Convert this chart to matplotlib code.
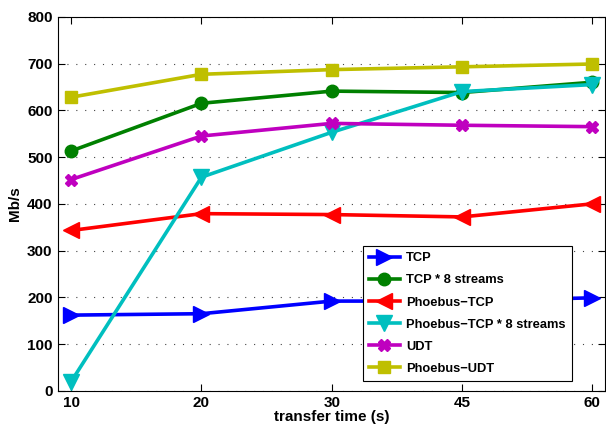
import matplotlib
matplotlib.use("Agg")
import matplotlib.pyplot as plt

plt.rcParams['font.family'] = ['Liberation Sans', 'DejaVu Sans']
plt.rcParams['font.weight'] = 'bold'

# transfer time categories
times = ['10', '20', '30', '45', '60']

tcp = [162, 165, 192, 192, 199]
tcp8 = [513, 615, 641, 638, 660]
phoebus_tcp = [343, 379, 377, 372, 400]
phoebus_tcp8 = [20, 457, 553, 640, 655]
udt = [452, 545, 572, 568, 565]
phoebus_udt = [628, 677, 687, 693, 699]

series = [
    ('TCP', tcp, 'b', '>'),
    ('TCP * 8 streams', tcp8, 'g', 'o'),
    ('Phoebus\u2212TCP', phoebus_tcp, 'r', '<'),
    ('Phoebus\u2212TCP * 8 streams', phoebus_tcp8, 'c', 'v'),
    ('UDT', udt, 'm', 'X'),
    ('Phoebus\u2212UDT', phoebus_udt, 'y', 's'),
]
colors = {'b': '#0000ff', 'g': '#008000', 'r': '#ff0000', 'c': '#00bfbf', 'm': '#bf00bf', 'y': '#bfbf00'}

fig = plt.figure(figsize=(6.06, 4.30), dpi=100)
ax = fig.add_axes([0.096, 0.091, 0.903, 0.870])

x = list(range(1, len(times) + 1))
for name, vals, c, m in series:
    ms = 9 if m in ('o', 's', 'X') else 11
    ax.plot(x, vals, color=colors[c], marker=m, markersize=ms, linewidth=2.6, label=name)

ax.set_xlim(0.9, 5.1)
ax.set_ylim(0, 800)
ax.set_xticks(x)
ax.set_xticklabels(times)
ax.set_yticks(range(0, 801, 100))
ax.yaxis.grid(True, linestyle=(0, (1, 7)), color='#444444', linewidth=0.8)
ax.tick_params(direction='in', top=True, right=True, labelsize=11, length=5, pad=4)
for lab in ax.get_xticklabels() + ax.get_yticklabels():
    lab.set_fontweight('bold')
ax.set_xlabel('transfer time (s)', fontsize=11, fontweight='bold', labelpad=0)
ax.set_ylabel('Mb/s', fontsize=11, fontweight='bold', labelpad=4)

leg = ax.legend(loc='lower right', bbox_to_anchor=(0.95, 0.01), fontsize=9.3, fancybox=False,
                edgecolor='black', framealpha=1, handlelength=2.4, handletextpad=0.5,
                borderpad=0.45, labelspacing=0.78)
leg.get_frame().set_linewidth(0.8)

fig.savefig('out.png', dpi=100)
